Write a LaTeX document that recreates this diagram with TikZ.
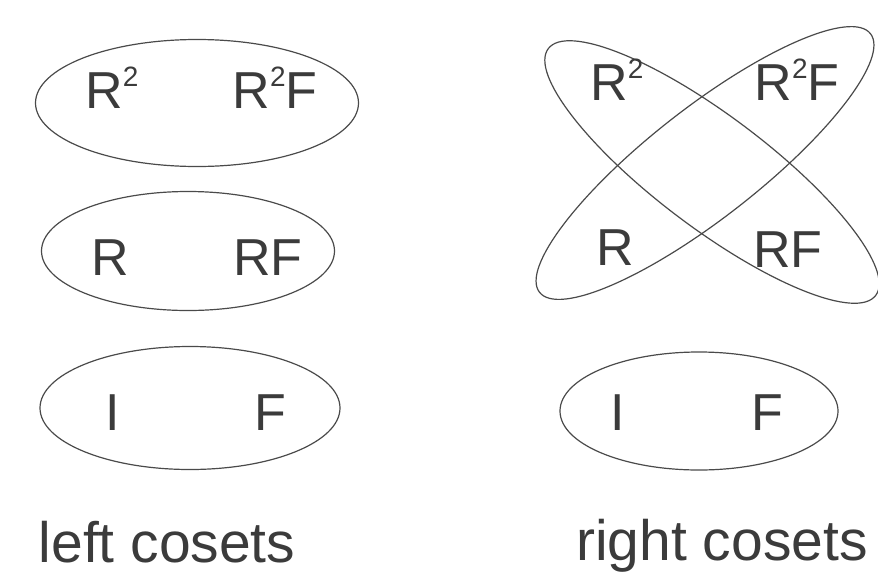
\documentclass[tikz,border=0pt]{standalone}
\usepackage{fontspec}
\setmainfont{Liberation Sans}
\usetikzlibrary{shapes.geometric}
\definecolor{Pencil}{HTML}{4A4A4A}
\newcommand{\sq}{\raisebox{0.42em}{\fontsize{28}{28}\selectfont 2}}
\tikzset{
  coset/.style={draw=Pencil, line width=1.2pt, ellipse, inner sep=0pt},
  elt/.style={font=\fontsize{52}{56}\selectfont, text=Pencil!80!black, inner sep=0pt},
  caption/.style={font=\fontsize{57}{60}\selectfont, text=Pencil!80!black, inner sep=0pt, anchor=base},
}
\begin{document}
\begin{tikzpicture}[x=1pt, y=-1pt]
    \useasboundingbox (0,0) rectangle (878,584);
    % left cosets
    \node[coset, minimum width=323pt, minimum height=127pt] (lc2) at (197,103) {};
    \node[coset, minimum width=293pt, minimum height=119pt] (lc1) at (188,251) {};
    \node[coset, minimum width=300pt, minimum height=123pt] (lc0) at (190,408) {};
    \node[elt] (lr2)  at (112,88)  {R\sq};
    \node[elt] (lr2f) at (275,88)  {R\sq F};
    \node[elt] (lr)   at (110,258) {R};
    \node[elt] (lrf)  at (268,258) {RF};
    \node[elt] (li)   at (113,413) {I};
    \node[elt] (lf)   at (270,413) {F};
    % right cosets
    \node[coset, minimum width=410pt, minimum height=112pt, rotate=-37] (rca) at (712,172) {};
    \node[coset, minimum width=420pt, minimum height=110pt, rotate=38]  (rcb) at (705,163) {};
    \node[coset, minimum width=278pt, minimum height=118pt] (rc0) at (699,411) {};
    \node[elt] (rr2)  at (617,80)  {R\sq};
    \node[elt] (rr2f) at (797,80)  {R\sq F};
    \node[elt] (rr)   at (615,248) {R};
    \node[elt] (rrf)  at (788,250) {RF};
    \node[elt] (ri)   at (618,413) {I};
    \node[elt] (rf)   at (767,413) {F};
    % captions
    \node[caption] (lcap) at (167,562) {left cosets};
    \node[caption] (rcap) at (722,560) {right cosets};
\end{tikzpicture}
\end{document}
